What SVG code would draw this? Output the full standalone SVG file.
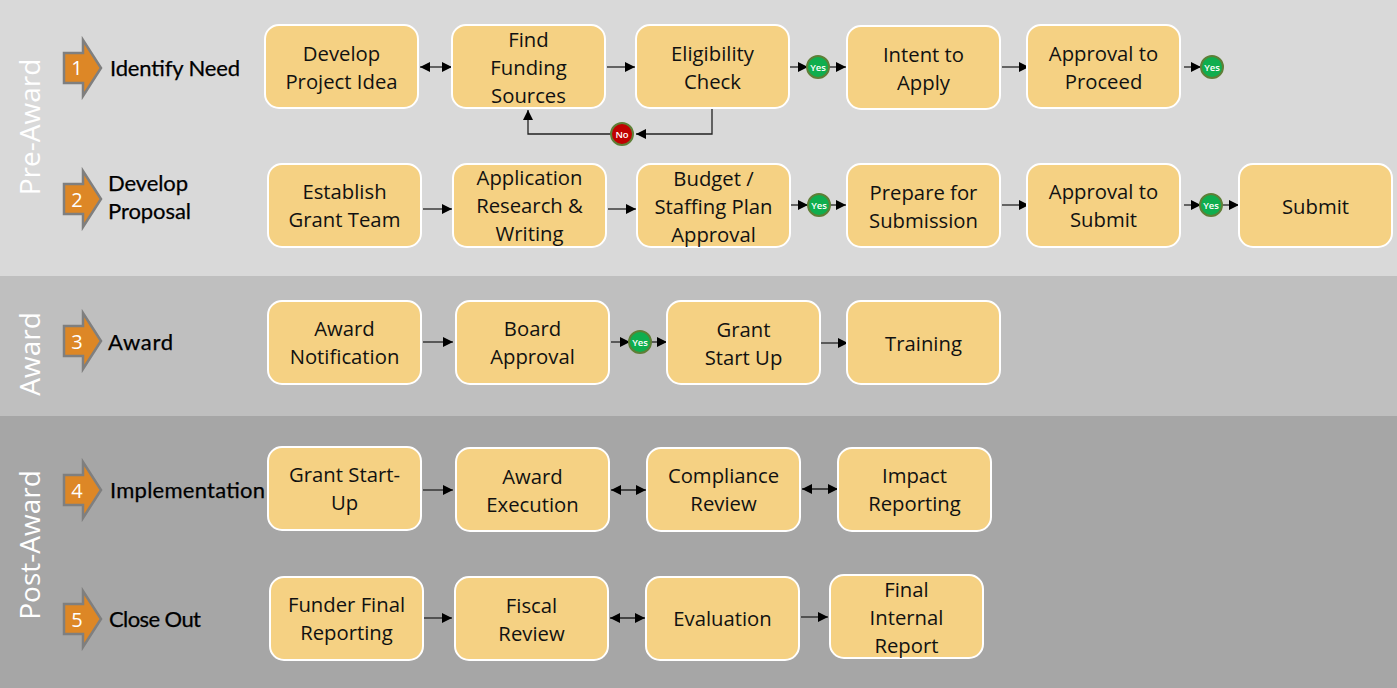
<svg xmlns="http://www.w3.org/2000/svg" width="1397" height="688" viewBox="0 0 1397 688">
<style>
.box{fill:#f5d183;stroke:#fff;stroke-width:2}
.t{font-family:"Open Sans","Noto Sans",sans-serif;font-size:20.3px;fill:#111;text-anchor:middle}
.h{font-family:Lato,"Liberation Sans",sans-serif;font-size:22px;font-weight:400;fill:#000;stroke:#000;stroke-width:.25}
.band{font-family:"Open Sans","Noto Sans",sans-serif;font-size:28px;fill:#fff;text-anchor:middle}
.num{font-family:"Open Sans","Noto Sans",sans-serif;font-size:20px;fill:#fff;text-anchor:middle}
.arrow{fill:#dd8726;stroke:#7f7f7f;stroke-width:2.5}
.c{fill:none;stroke:#222;stroke-width:1.3}
.y{fill:#0fae4e;stroke:#5f7f37;stroke-width:2}
.n{fill:#c00000;stroke:#5f7f37;stroke-width:2}
.bt{font-family:"Open Sans","Noto Sans",sans-serif;font-size:9.500px;font-weight:600;fill:#fff;text-anchor:middle}
</style>
<defs>
<marker id="e" markerUnits="userSpaceOnUse" markerWidth="11" markerHeight="10" refX="10" refY="5" orient="auto-start-reverse"><path d="M0 0L10 5L0 10Z" fill="#000"/></marker>
<path id="ar" d="M-13-15H6V-28L24 0L6 28V15H-13Z"/>
</defs>
<g id="bands">
<rect width="1397" height="276" fill="#d9d9d9"/>
<rect y="276" width="1397" height="140" fill="#bfbfbf"/>
<rect y="416" width="1397" height="272" fill="#a6a6a6"/>
<text class="band" transform="translate(40 127) rotate(-90)">Pre-Award</text>
<text class="band" transform="translate(40 354) rotate(-90)">Award</text>
<text class="band" transform="translate(40 545) rotate(-90)">Post-Award</text>
</g>
<g id="connectors">
<path class="c" marker-start="url(#e)" marker-end="url(#e)" d="M420 67H452"/>
<path class="c" marker-end="url(#e)" d="M607 67H635"/>
<path class="c" marker-end="url(#e)" d="M790 67H808"/>
<path class="c" marker-end="url(#e)" d="M829 67H846"/>
<path class="c" marker-end="url(#e)" d="M1002 67H1029"/>
<path class="c" marker-end="url(#e)" d="M1184 67H1201"/>
<path class="c" marker-end="url(#e)" d="M712 109V134H636"/>
<path class="c" marker-end="url(#e)" d="M611 134H528V110"/>
<path class="c" marker-end="url(#e)" d="M423 209H452"/>
<path class="c" marker-end="url(#e)" d="M608 209H636"/>
<path class="c" marker-end="url(#e)" d="M790 205H808"/>
<path class="c" marker-end="url(#e)" d="M829 205H846"/>
<path class="c" marker-end="url(#e)" d="M1002 205H1029"/>
<path class="c" marker-end="url(#e)" d="M1184 205H1201"/>
<path class="c" marker-end="url(#e)" d="M1221 205H1239"/>
<path class="c" marker-end="url(#e)" d="M423 342H453"/>
<path class="c" marker-end="url(#e)" d="M611 342H630"/>
<path class="c" marker-end="url(#e)" d="M650 342H667"/>
<path class="c" marker-end="url(#e)" d="M821 343H848"/>
<path class="c" marker-end="url(#e)" d="M423 490H453"/>
<path class="c" marker-start="url(#e)" marker-end="url(#e)" d="M611 490H646"/>
<path class="c" marker-start="url(#e)" marker-end="url(#e)" d="M802 489H838"/>
<path class="c" marker-end="url(#e)" d="M423 618H452"/>
<path class="c" marker-start="url(#e)" marker-end="url(#e)" d="M610 618H645"/>
<path class="c" marker-end="url(#e)" d="M801 617H828"/>
</g>
<g id="stage1"><use href="#ar" class="arrow" x="77" y="68"/><text class="num" x="77" y="75">1</text><text class="h" x="110" y="76" textLength="130">Identify Need</text></g>
<g id="stage2"><use href="#ar" class="arrow" x="77" y="199"/><text class="num" x="77" y="207">2</text><text class="h" x="108" y="191" textLength="80">Develop</text><text class="h" x="108" y="219" textLength="83">Proposal</text></g>
<g id="stage3"><use href="#ar" class="arrow" x="77" y="341"/><text class="num" x="77" y="349">3</text><text class="h" x="108" y="350" textLength="65">Award</text></g>
<g id="stage4"><use href="#ar" class="arrow" x="77" y="490"/><text class="num" x="77" y="498">4</text><text class="h" x="110" y="498" textLength="155">Implementation</text></g>
<g id="stage5"><use href="#ar" class="arrow" x="77" y="619"/><text class="num" x="77" y="627">5</text><text class="h" x="109" y="627" textLength="92">Close Out</text></g>
<g id="n1"><rect class="box" x="265" y="25" width="153" height="83" rx="14"/><text class="t" x="341.500" y="61">Develop</text><text class="t" x="341.500" y="89">Project Idea</text></g>
<g id="n2"><rect class="box" x="452" y="25" width="153" height="83" rx="14"/><text class="t" x="528.500" y="47">Find</text><text class="t" x="528.500" y="75">Funding</text><text class="t" x="528.500" y="103">Sources</text></g>
<g id="n3"><rect class="box" x="636" y="25" width="153" height="83" rx="14"/><text class="t" x="712.500" y="61">Eligibility</text><text class="t" x="712.500" y="89">Check</text></g>
<g id="n4"><rect class="box" x="847" y="26" width="153" height="83" rx="14"/><text class="t" x="923.500" y="62">Intent to</text><text class="t" x="923.500" y="90">Apply</text></g>
<g id="n5"><rect class="box" x="1027" y="25" width="153" height="83" rx="14"/><text class="t" x="1103.500" y="61">Approval to</text><text class="t" x="1103.500" y="89">Proceed</text></g>
<g id="n6"><rect class="box" x="268" y="164" width="153" height="83" rx="14"/><text class="t" x="344.500" y="199">Establish</text><text class="t" x="344.500" y="227">Grant Team</text></g>
<g id="n7"><rect class="box" x="453" y="164" width="153" height="83" rx="14"/><text class="t" x="529.500" y="185">Application</text><text class="t" x="529.500" y="213">Research &amp;</text><text class="t" x="529.500" y="241">Writing</text></g>
<g id="n8"><rect class="box" x="637" y="164" width="153" height="83" rx="14"/><text class="t" x="713.500" y="186">Budget /</text><text class="t" x="713.500" y="214">Staffing Plan</text><text class="t" x="713.500" y="242">Approval</text></g>
<g id="n9"><rect class="box" x="847" y="164" width="153" height="83" rx="14"/><text class="t" x="923.500" y="200">Prepare for</text><text class="t" x="923.500" y="228">Submission</text></g>
<g id="n10"><rect class="box" x="1027" y="164" width="153" height="83" rx="14"/><text class="t" x="1103.500" y="199">Approval to</text><text class="t" x="1103.500" y="227">Submit</text></g>
<g id="n11"><rect class="box" x="1239" y="164" width="153" height="83" rx="14"/><text class="t" x="1315.500" y="214">Submit</text></g>
<g id="n12"><rect class="box" x="268" y="301" width="153" height="83" rx="14"/><text class="t" x="344.500" y="336">Award</text><text class="t" x="344.500" y="364">Notification</text></g>
<g id="n13"><rect class="box" x="456" y="301" width="153" height="83" rx="14"/><text class="t" x="532.500" y="336">Board</text><text class="t" x="532.500" y="364">Approval</text></g>
<g id="n14"><rect class="box" x="667" y="301" width="153" height="83" rx="14"/><text class="t" x="743.500" y="337">Grant</text><text class="t" x="743.500" y="365">Start Up</text></g>
<g id="n15"><rect class="box" x="847" y="301" width="153" height="83" rx="14"/><text class="t" x="923.500" y="351">Training</text></g>
<g id="n16"><rect class="box" x="268" y="447" width="153" height="83" rx="14"/><text class="t" x="344.500" y="482">Grant Start-</text><text class="t" x="344.500" y="510">Up</text></g>
<g id="n17"><rect class="box" x="456" y="448" width="153" height="83" rx="14"/><text class="t" x="532.500" y="484">Award</text><text class="t" x="532.500" y="512">Execution</text></g>
<g id="n18"><rect class="box" x="647" y="448" width="153" height="83" rx="14"/><text class="t" x="723.500" y="483">Compliance</text><text class="t" x="723.500" y="511">Review</text></g>
<g id="n19"><rect class="box" x="838" y="448" width="153" height="83" rx="14"/><text class="t" x="914.500" y="483">Impact</text><text class="t" x="914.500" y="511">Reporting</text></g>
<g id="n20"><rect class="box" x="270" y="577" width="153" height="83" rx="14"/><text class="t" x="346.500" y="612">Funder Final</text><text class="t" x="346.500" y="640">Reporting</text></g>
<g id="n21"><rect class="box" x="455" y="577" width="153" height="83" rx="14"/><text class="t" x="531.500" y="613">Fiscal</text><text class="t" x="531.500" y="641">Review</text></g>
<g id="n22"><rect class="box" x="646" y="577" width="153" height="83" rx="14"/><text class="t" x="722.500" y="626">Evaluation</text></g>
<g id="n23"><rect class="box" x="830" y="575" width="153" height="83" rx="14"/><text class="t" x="906.500" y="597">Final</text><text class="t" x="906.500" y="625">Internal</text><text class="t" x="906.500" y="653">Report</text></g>
<g id="d1"><circle class="y" cx="818" cy="67" r="11"/><text class="bt" x="818" y="70.500">Yes</text></g>
<g id="d2"><circle class="y" cx="1212" cy="67" r="11"/><text class="bt" x="1212" y="70.500">Yes</text></g>
<g id="d3"><circle class="n" cx="622" cy="134" r="11"/><text class="bt" x="622" y="137.500">No</text></g>
<g id="d4"><circle class="y" cx="819" cy="205" r="11"/><text class="bt" x="819" y="208.500">Yes</text></g>
<g id="d5"><circle class="y" cx="1211" cy="205" r="11"/><text class="bt" x="1211" y="208.500">Yes</text></g>
<g id="d6"><circle class="y" cx="640" cy="342" r="11"/><text class="bt" x="640" y="345.500">Yes</text></g>
</svg>
